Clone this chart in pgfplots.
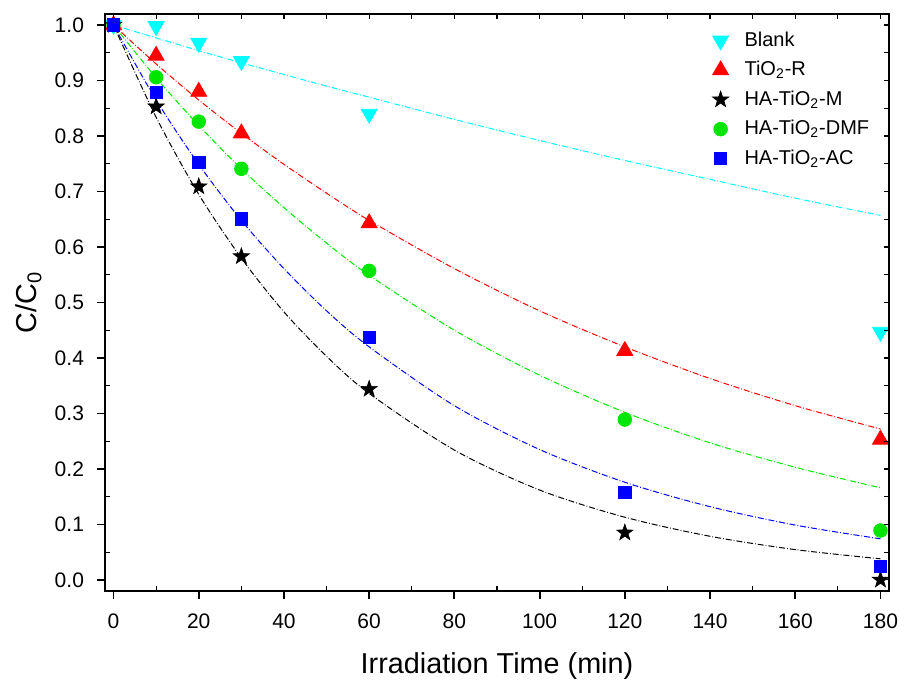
\documentclass[border=0pt]{standalone}
\usepackage{fontspec}
\setmainfont{Liberation Sans}
\usepackage{pgfplots}
\pgfplotsset{compat=1.18}

\definecolor{cBlank}{RGB}{0,255,255}
\definecolor{cR}{RGB}{255,0,0}
\definecolor{cDMF}{RGB}{0,230,0}
\definecolor{cAC}{RGB}{0,0,255}

% filled five-pointed star
\pgfdeclareplotmark{fstar}{%
  \pgfpathmoveto{\pgfqpointpolar{90}{\pgfplotmarksize}}%
  \pgfpathlineto{\pgfqpointpolar{126}{0.4\pgfplotmarksize}}%
  \pgfpathlineto{\pgfqpointpolar{162}{\pgfplotmarksize}}%
  \pgfpathlineto{\pgfqpointpolar{198}{0.4\pgfplotmarksize}}%
  \pgfpathlineto{\pgfqpointpolar{234}{\pgfplotmarksize}}%
  \pgfpathlineto{\pgfqpointpolar{270}{0.4\pgfplotmarksize}}%
  \pgfpathlineto{\pgfqpointpolar{306}{\pgfplotmarksize}}%
  \pgfpathlineto{\pgfqpointpolar{342}{0.4\pgfplotmarksize}}%
  \pgfpathlineto{\pgfqpointpolar{18}{\pgfplotmarksize}}%
  \pgfpathlineto{\pgfqpointpolar{54}{0.4\pgfplotmarksize}}%
  \pgfpathclose
  \pgfusepathqfillstroke}

\begin{document}
\begin{tikzpicture}
\pgfplotsset{
  frame/.style={
    scale only axis, width=392pt, height=288.5pt,
    xmin=-2, xmax=182, ymin=-0.02, ymax=1.02,
    xtick={0,20,...,180}, minor x tick num=1,
    ytick={0,0.1,...,1.0}, minor y tick num=1,
    axis line style={line width=1pt},
  },
}
\begin{axis}[frame, name=ax,
  xtick pos=left, ytick pos=left,
  tick align=outside,
  major tick length=4pt, minor tick length=0pt,
  every tick/.style={black, line width=0.9pt},
  /pgf/number format/assume math mode=true,
  ticklabel style={font=\fontsize{10.5}{12}\selectfont},
  xticklabel style={yshift=-4pt},
  yticklabel style={xshift=-3pt, /pgf/number format/fixed, /pgf/number format/fixed zerofill, /pgf/number format/precision=1},
  xlabel={Irradiation Time (min)},
  ylabel={C/C\textsubscript{0}},
  label style={font=\fontsize{14.4}{16}\selectfont},
  xlabel style={at={(rel axis cs:0.5,0)}, anchor=base, yshift=-41.5pt},
  ylabel style={at={(rel axis cs:0,0.5)}, anchor=base, yshift=34pt},
  legend style={draw=none, fill=none, at={(rel axis cs:0.764,0.98)}, anchor=north west,
    font=\fontsize{10}{12}\selectfont, row sep=2pt, inner sep=1pt},
  legend cell align=left,
  legend image code/.code={\draw[#1, only marks] plot coordinates {(0.25cm,0cm)}; \path[draw=none, fill=none] (0,0) rectangle (0.6cm,0.01cm);},
]
% fitted curves
\addplot[cBlank, densely dashdotted, line width=0.5pt, smooth, forget plot] coordinates {
(0,1) (10,0.977) (20,0.954) (30,0.932) (40,0.911) (50,0.890) (60,0.870) (80,0.830)
(100,0.792) (120,0.756) (140,0.722) (160,0.688) (180,0.657)};
\addplot[cR, densely dashdotted, line width=0.5pt, smooth, forget plot] coordinates {
(0,1) (10,0.930) (20,0.865) (30,0.805) (40,0.749) (50,0.697) (60,0.648) (80,0.561)
(100,0.485) (120,0.420) (140,0.363) (160,0.314) (180,0.272)};
\addplot[black, densely dashdotted, line width=0.5pt, smooth, forget plot] coordinates {
(0,1) (10,0.834) (20,0.695) (30,0.580) (40,0.483) (50,0.403) (60,0.336) (80,0.234)
(100,0.162) (120,0.113) (140,0.0786) (160,0.0546) (180,0.038)};
\addplot[cDMF, densely dashdotted, line width=0.5pt, smooth, forget plot] coordinates {
(0,1) (10,0.905) (20,0.819) (30,0.741) (40,0.671) (50,0.607) (60,0.549) (80,0.450)
(100,0.369) (120,0.302) (140,0.247) (160,0.203) (180,0.166)};
\addplot[cAC, densely dashdotted, line width=0.5pt, smooth, forget plot] coordinates {
(0,1) (10,0.865) (20,0.749) (30,0.648) (40,0.561) (50,0.485) (60,0.420) (80,0.314)
(100,0.235) (120,0.176) (140,0.132) (160,0.0988) (180,0.074)};

% measured points
\addplot[only marks, mark=triangle*, mark size=4.6pt, mark options={rotate=180, fill=cBlank, draw=cBlank}] coordinates {
(0,1.0) (10,0.998) (20,0.968) (30,0.935) (60,0.840) (180,0.447)};
\addplot[only marks, mark=triangle*, mark size=4.6pt, mark options={fill=cR, draw=cR}] coordinates {
(0,1.0) (10,0.945) (20,0.880) (30,0.805) (60,0.643) (120,0.413) (180,0.253)};
\addplot[only marks, mark=fstar, mark size=4.3pt, mark options={fill=black, draw=black, line width=0.3pt}] coordinates {
(0,1.0) (10,0.853) (20,0.709) (30,0.583) (60,0.344) (120,0.085) (180,0.0)};
\addplot[only marks, mark=*, mark size=3.4pt, mark options={fill=cDMF, draw=cDMF}] coordinates {
(0,1.0) (10,0.906) (20,0.826) (30,0.741) (60,0.557) (120,0.289) (180,0.089)};
\addplot[only marks, mark=square*, mark size=3.1pt, mark options={fill=cAC, draw=cAC}] coordinates {
(0,1.0) (10,0.879) (20,0.753) (30,0.651) (60,0.437) (120,0.158) (180,0.024)};
\legend{Blank, TiO\textsubscript{2}-R, HA-TiO\textsubscript{2}-M, HA-TiO\textsubscript{2}-DMF, HA-TiO\textsubscript{2}-AC}
\end{axis}
% inward ticks on top and right
\begin{axis}[frame,
  xtick pos=right, ytick pos=right, tick align=inside,
  major tick length=2.5pt, minor tick length=2.5pt,
  every tick/.style={black, line width=0.6pt},
  xticklabels={}, yticklabels={},
]
\end{axis}
% inward minor ticks on bottom and left
\begin{axis}[frame,
  xtick pos=left, ytick pos=left, tick align=inside,
  major tick length=0pt, minor tick length=2.5pt,
  every tick/.style={black, line width=0.6pt},
  xticklabels={}, yticklabels={},
]
\end{axis}
\pgfresetboundingbox
\path[use as bounding box] ([xshift=-52.5pt,yshift=-46.5pt]ax.south west) rectangle ([xshift=7.5pt,yshift=7pt]ax.north east);
\end{tikzpicture}
\end{document}
